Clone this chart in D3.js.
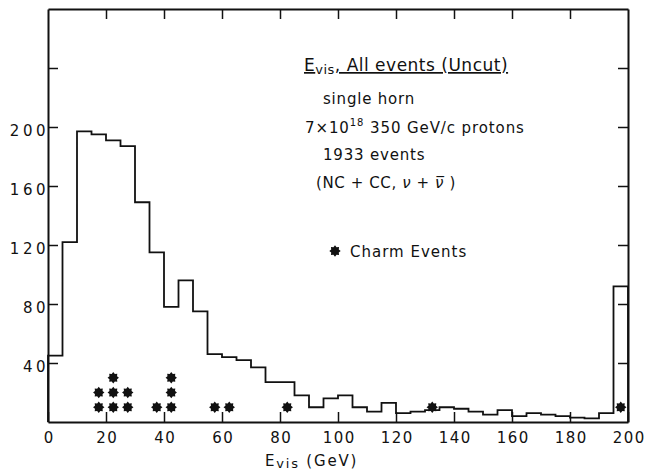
<!DOCTYPE html>
<html>
<head>
<meta charset="utf-8">
<script src="https://cdn.jsdelivr.net/npm/d3@7"></script>
<style>
  body { margin: 0; background: #fff; }
  text { font-family: "DejaVu Sans", sans-serif; fill: #111; }
</style>
</head>
<body>
<div id="chart"></div>
<script>
// Histogram of visible energy, 5 GeV bins (lower edges)
const binLow = [0, 5, 10, 15, 20, 25, 30, 35, 40, 45, 50, 55, 60, 65, 70, 75, 80, 85, 90, 95,
                100, 105, 110, 115, 120, 125, 130, 135, 140, 145, 150, 155, 160, 165, 170, 175, 180, 185, 190, 195];
const binWidth = 5;
const counts = [45, 122, 197, 195, 191, 187, 149, 115, 78, 96, 75, 46, 44, 42, 37, 27, 27, 18, 10, 16,
                18, 10, 7, 13, 6, 7, 8, 10, 9, 7, 5, 8, 4, 6, 5, 4, 3, 2.5, 6, 92];

// charm events, drawn as stacked stars
const charmE = [17.5, 17.5, 22.5, 22.5, 22.5, 27.5, 27.5, 37.5, 42.5, 42.5, 42.5, 57.5, 62.5, 82.5, 132.5, 197.5];
const charmLevel = [10, 20, 10, 20, 30, 10, 20, 10, 10, 20, 30, 10, 10, 10, 10, 10];

const xTicks = [0, 20, 40, 60, 80, 100, 120, 140, 160, 180, 200];
const yTicks = [40, 80, 120, 160, 200, 240];
const yLabels = [40, 80, 120, 160, 200];

const width = 645, height = 470;
const margin = { top: 9, right: 15, bottom: 48, left: 48 };

const svg = d3.select("#chart")
  .append("svg")
  .attr("width", width)
  .attr("height", height)
  .style("background", "#fff");

const x = d3.scaleLinear()
  .domain([0, 200])
  .range([margin.left, width - margin.right - 2]);

const y = d3.scaleLinear()
  .domain([0, 280])
  .range([height - margin.bottom, margin.top]);

const ink = "#111";

// bottom axis (ticks pointing inward)
const gx = svg.append("g")
  .attr("transform", `translate(0,${y(0)})`)
  .call(d3.axisBottom(x).tickValues(xTicks).tickSizeInner(-10).tickSizeOuter(0).tickPadding(10));
gx.selectAll("text")
  .style("font-size", "15px")
  .style("letter-spacing", "1.5px")
  .attr("dx", "0.75px");

// left axis
const gy = svg.append("g")
  .attr("transform", `translate(${x(0)},0)`)
  .call(d3.axisLeft(y).tickValues(yTicks).tickSizeInner(-10).tickSizeOuter(0).tickPadding(0)
    .tickFormat(d => yLabels.includes(d) ? d : ""));
gy.selectAll("text")
  .style("font-size", "15px")
  .style("letter-spacing", "3.5px")
  .attr("x", 1)
  .attr("dy", "0.55em");

// top axis
svg.append("g")
  .attr("transform", `translate(0,${y(280)})`)
  .call(d3.axisTop(x).tickValues(xTicks.slice(1, -1)).tickSizeInner(-10).tickSizeOuter(0).tickFormat(""));

// right axis
svg.append("g")
  .attr("transform", `translate(${x(200)},0)`)
  .call(d3.axisRight(y).tickValues(yTicks).tickSizeInner(-10).tickSizeOuter(0).tickFormat(""));

svg.selectAll(".domain").attr("stroke", ink).attr("stroke-width", 2);
svg.selectAll(".tick line").attr("stroke", ink).attr("stroke-width", 1.5);
svg.selectAll(".tick text").attr("fill", ink);

// histogram outline
const pts = [[binLow[0], 0]];
binLow.forEach((lo, i) => {
  pts.push([lo, counts[i]]);
  pts.push([lo + binWidth, counts[i]]);
});
pts.push([binLow[binLow.length - 1] + binWidth, 0]);

const line = d3.line()
  .x(d => x(d[0]))
  .y(d => y(d[1]));

svg.append("path")
  .datum(pts)
  .attr("d", line)
  .attr("fill", "none")
  .attr("stroke", ink)
  .attr("stroke-width", 1.8)
  .attr("stroke-linejoin", "miter");

// 8-point star symbol
const star8 = {
  draw(context, size) {
    const R = Math.sqrt(size) / 2, r = R * 0.72;
    for (let i = 0; i < 16; i++) {
      const a = i * Math.PI / 8 - Math.PI / 2;
      const rr = i % 2 === 0 ? R : r;
      if (i === 0) context.moveTo(rr * Math.cos(a), rr * Math.sin(a));
      else context.lineTo(rr * Math.cos(a), rr * Math.sin(a));
    }
    context.closePath();
  }
};
const starPath = d3.symbol().type(star8).size(130);

svg.selectAll("path.charm")
  .data(charmE)
  .enter()
  .append("path")
  .attr("class", "charm")
  .attr("d", starPath)
  .attr("transform", (d, i) => `translate(${x(d)},${y(charmLevel[i])})`)
  .attr("fill", ink);

// annotation block
const title = svg.append("text")
  .attr("x", 304)
  .attr("y", 71)
  .style("font-size", "17px")
  .style("letter-spacing", "0.5px");
title.append("tspan").text("E").style("text-decoration", "underline");
title.append("tspan").text("vis").style("font-size", "13px").attr("dy", 3);
title.append("tspan").text(", All events (Uncut)").attr("dy", -3).style("text-decoration", "underline");

const info = [
  { x: 323, y: 104, t: "single horn" },
  { x: 323, y: 160, t: "1933 events" }
];
info.forEach(d => {
  svg.append("text")
    .attr("x", d.x).attr("y", d.y)
    .style("font-size", "15px")
    .style("letter-spacing", "0.8px")
    .text(d.t);
});

const protons = svg.append("text")
  .attr("x", 305).attr("y", 133)
  .style("font-size", "15px")
  .style("letter-spacing", "0.9px");
protons.append("tspan").text("7\u00d710");
protons.append("tspan").text("18").style("font-size", "10px").attr("dy", -7);
protons.append("tspan").text(" 350 GeV/c protons").attr("dy", 7);

const mix = svg.append("text")
  .attr("x", 316).attr("y", 188)
  .style("font-size", "15px")
  .style("letter-spacing", "0.6px");
mix.append("tspan").text("(NC + CC, ");
mix.append("tspan").text("\u03bd").style("font-style", "italic");
mix.append("tspan").text(" + ");
mix.append("tspan").text("\u03bd\u0305").style("font-style", "italic");
mix.append("tspan").text(" )");

// legend
svg.append("path")
  .attr("d", starPath)
  .attr("transform", "translate(335,251)")
  .attr("fill", ink);
svg.append("text")
  .attr("x", 350).attr("y", 257)
  .style("font-size", "15px")
  .style("letter-spacing", "1px")
  .text("Charm Events");

// x-axis label
const xl = svg.append("text")
  .attr("x", 265).attr("y", 466)
  .style("font-size", "15px")
  .style("letter-spacing", "1.8px");
xl.append("tspan").text("E");
xl.append("tspan").text("vis").style("font-size", "13px").attr("dy", 2);
xl.append("tspan").text(" (GeV)").attr("dy", -2);
</script>
</body>
</html>
